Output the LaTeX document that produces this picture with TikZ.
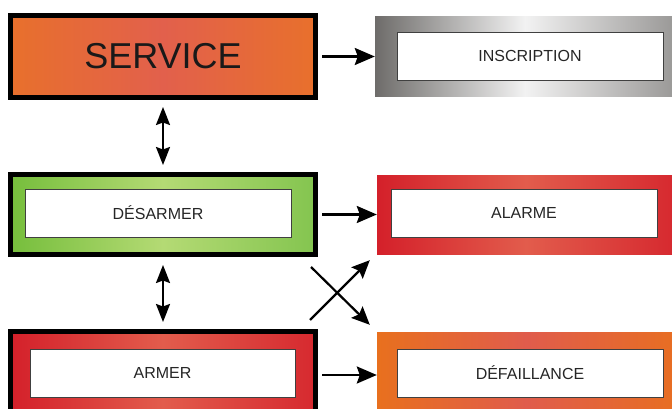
\documentclass[tikz,border=0pt]{standalone}
\usepackage{fontspec}
\setmainfont{Liberation Sans}
\usetikzlibrary{arrows.meta}
\tikzset{>={Stealth[length=20pt,width=17pt,inset=3pt]}}

\definecolor{servA}{HTML}{E8702C}
\definecolor{servB}{HTML}{E2604C}
\definecolor{greenA}{HTML}{76BE3C}
\definecolor{greenB}{HTML}{B4DA74}
\definecolor{redA}{HTML}{D4202A}
\definecolor{redB}{HTML}{E25C4C}
\definecolor{orgA}{HTML}{E8701E}
\definecolor{orgB}{HTML}{E05C4C}
\definecolor{greyA}{HTML}{6E6C6A}
\definecolor{greyB}{HTML}{F2F2F2}

\tikzset{
  outerbox/.style={draw=black, line width=5pt, minimum width=305pt,
    minimum height=82pt, inner sep=0pt},
  colbox/.style={minimum width=298pt, minimum height=79pt, inner sep=0pt},
  txtbox/.style={draw=black!75, line width=0.8pt, fill=white,
    minimum width=266pt, minimum height=48pt, inner sep=0pt,
    font=\fontsize{16}{18}\selectfont, text=black!85},
  link/.style={->, line width=2.5pt},
  twoway/.style={<->, line width=2.2pt, >={Stealth[length=18pt,width=14pt,inset=2.5pt]}},
  crossing/.style={->, line width=2.2pt, >={Stealth[length=18pt,width=16pt,inset=3pt]}}
}

\begin{document}
\begin{tikzpicture}[x=1pt,y=-1pt]

  \useasboundingbox (0,0) rectangle (672,409);
  \clip (0,0) rectangle (672,409);

  %% left column
  \node[outerbox, left color=servA, right color=servA, middle color=servB,
    font=\fontsize{36}{40}\selectfont, text=black!90] (service) at (163,56.5) {SERVICE};
  \node[outerbox, minimum height=80pt, left color=greenA, right color=greenA!90!white,
    middle color=greenB] (desarmer) at (163,214.5) {};
  \node[txtbox] (desarmertxt) at (158,213) {DÉSARMER};
  \node[outerbox, minimum height=83pt, left color=redA, right color=redA!85!redB,
    middle color=redB] (armer) at (163,373) {};
  \node[txtbox, minimum width=265pt] (armertxt) at (162.5,373) {ARMER};

  %% right column
  \node[colbox, minimum width=300pt, minimum height=80pt, left color=greyA,
    right color=greyA!70!white, middle color=greyB] (inscription) at (525,57) {};
  \node[txtbox] (inscriptiontxt) at (530,56) {INSCRIPTION};
  \node[colbox, left color=redA, right color=redA!85!redB, middle color=redB]
    (alarme) at (526,214.5) {};
  \node[txtbox] (alarmetxt) at (524,213) {ALARME};
  \node[colbox, minimum height=83pt, left color=orgA, right color=orgA!90!orgB,
    middle color=orgB] (defaillance) at (526,373.5) {};
  \node[txtbox] (defaillancetxt) at (530,373) {DÉFAILLANCE};

  %% connectors
  \draw[link, shorten <=4pt] (service.east) -- (service.east -| inscription.west);
  \draw[link, shorten <=4pt] (desarmer.east) -- (desarmer.east -| alarme.west);
  \draw[link, shorten <=4pt] ([yshift=-2pt]armer.east) -- ([yshift=-2pt]armer.east -| defaillance.west);
  \draw[twoway, shorten <=7pt, shorten >=7pt] (service.south) -- (desarmer.north);
  \draw[twoway, shorten <=8pt, shorten >=7pt] (desarmer.south) -- (armer.north);
  \draw[crossing] ([shift={(-7,10)}]desarmer.south east) -- ([shift={(-7,-7)}]defaillance.north west);
  \draw[crossing] ([shift={(-8,-9)}]armer.north east) -- ([shift={(-7,6)}]alarme.south west);

\end{tikzpicture}
\end{document}
